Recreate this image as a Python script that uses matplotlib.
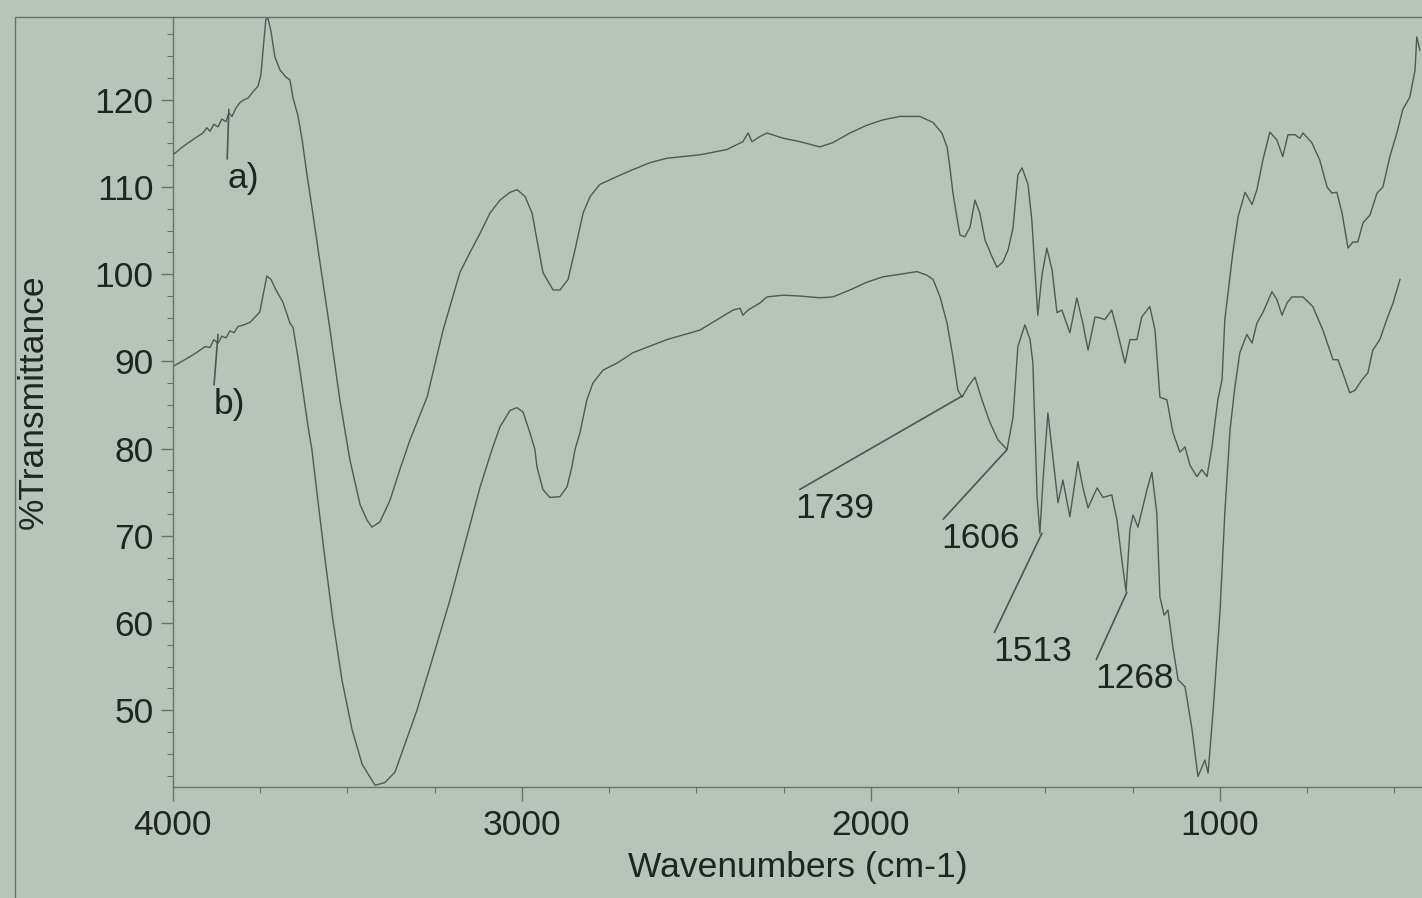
import matplotlib
matplotlib.use('Agg')
import matplotlib.pyplot as plt
from matplotlib.lines import Line2D
from matplotlib.ticker import MultipleLocator

# ─── Data ─────────────────────────────────────────────────────────────────────
WN_A = [3997, 3966, 3937, 3914, 3903, 3894, 3883, 3871, 3860, 3848, 3840, 3831,
        3819, 3808, 3797, 3785, 3771, 3756, 3748, 3742, 3734, 3728, 3719, 3708,
        3693, 3676, 3665, 3656, 3642, 3630, 3616, 3602, 3579, 3550, 3522, 3493,
        3464, 3444, 3430, 3407, 3378, 3350, 3321, 3272, 3226, 3178, 3149, 3120,
        3092, 3063, 3034, 3014, 2991, 2971, 2957, 2940, 2911, 2891, 2868, 2848,
        2825, 2805, 2777, 2728, 2682, 2633, 2585, 2490, 2413, 2367, 2352, 2341,
        2318, 2298, 2252, 2203, 2146, 2109, 2060, 2011, 1966, 1917, 1860, 1822,
        1797, 1782, 1774, 1765, 1754, 1745, 1731, 1716, 1702, 1688, 1673, 1653,
        1639, 1622, 1607, 1593, 1579, 1567, 1550, 1539, 1530, 1522, 1510, 1496,
        1481, 1467, 1453, 1430, 1410, 1393, 1378, 1358, 1344, 1330, 1310, 1295,
        1272, 1258, 1238, 1224, 1201, 1186, 1172, 1152, 1135, 1115, 1100, 1086,
        1066, 1052, 1037, 1023, 1006, 994, 986, 963, 948, 928, 908, 894,
        877, 857, 837, 820, 805, 785, 771, 762, 737, 714, 693, 679,
        665, 650, 633, 619, 605, 590, 570, 550, 533, 513, 493, 476,
        456, 441, 436, 427]
T_A = [113.8, 114.8, 115.6, 116.2, 116.8, 116.4, 117.2, 116.9, 117.8, 117.5, 118.5, 118.1,
       119.1, 119.7, 120.0, 120.2, 120.9, 121.6, 122.9, 125.7, 129.2, 129.4, 127.8, 124.9,
       123.4, 122.6, 122.3, 120.2, 118.2, 115.4, 111.4, 107.7, 101.4, 93.6, 85.6, 78.7,
       73.6, 71.8, 71.0, 71.6, 74.1, 77.6, 81.0, 85.9, 93.6, 100.2, 102.5, 104.7,
       107.0, 108.5, 109.4, 109.7, 108.9, 107.0, 103.9, 100.2, 98.2, 98.2, 99.4, 102.8,
       107.0, 108.9, 110.3, 111.2, 112.0, 112.8, 113.3, 113.7, 114.3, 115.2, 116.2, 115.2,
       115.8, 116.2, 115.6, 115.2, 114.6, 115.1, 116.2, 117.1, 117.7, 118.1, 118.1, 117.4,
       116.2, 114.6, 112.3, 109.3, 106.6, 104.5, 104.3, 105.4, 108.5, 107.0, 103.9, 102.0,
       100.8, 101.4, 102.8, 105.3, 111.4, 112.2, 110.3, 106.2, 100.5, 95.3, 99.9, 103.0,
       100.5, 95.6, 95.9, 93.3, 97.3, 94.4, 91.3, 95.1, 95.0, 94.8, 95.9, 93.6,
       89.8, 92.5, 92.5, 95.1, 96.3, 93.6, 85.9, 85.6, 81.9, 79.6, 80.2, 78.1,
       76.8, 77.6, 76.8, 80.2, 85.6, 87.9, 94.8, 102.5, 106.6, 109.4, 108.0, 109.7,
       113.1, 116.3, 115.4, 113.5, 116.0, 116.0, 115.6, 116.2, 115.1, 113.1, 110.0, 109.3,
       109.4, 107.0, 103.0, 103.7, 103.7, 105.9, 106.8, 109.3, 110.0, 113.5, 116.2, 118.9,
       120.3, 123.4, 127.2, 125.7]

WN_B = [3997, 3966, 3937, 3908, 3894, 3883, 3871, 3860, 3848, 3837, 3825, 3814,
        3797, 3779, 3762, 3751, 3742, 3731, 3719, 3705, 3685, 3665, 3656, 3642,
        3628, 3613, 3602, 3585, 3564, 3542, 3516, 3487, 3458, 3421, 3393, 3364,
        3341, 3301, 3255, 3206, 3158, 3120, 3086, 3063, 3034, 3014, 2997, 2977,
        2963, 2957, 2940, 2920, 2891, 2871, 2857, 2848, 2834, 2814, 2797, 2768,
        2728, 2682, 2585, 2490, 2395, 2375, 2367, 2352, 2318, 2298, 2252, 2203,
        2146, 2109, 2060, 2011, 1966, 1917, 1868, 1840, 1822, 1802, 1782, 1765,
        1751, 1739, 1722, 1702, 1682, 1659, 1636, 1610, 1593, 1579, 1559, 1544,
        1536, 1524, 1516, 1507, 1493, 1479, 1464, 1450, 1430, 1407, 1393, 1378,
        1352, 1335, 1310, 1295, 1281, 1269, 1258, 1249, 1235, 1209, 1195, 1181,
        1172, 1160, 1149, 1135, 1120, 1100, 1080, 1063, 1043, 1034, 1020, 1000,
        986, 971, 957, 943, 923, 908, 894, 877, 851, 837, 822, 808,
        794, 762, 734, 705, 676, 662, 648, 628, 613, 593, 576, 562,
        542, 522, 504, 484]
T_B = [89.5, 90.2, 90.9, 91.7, 91.6, 92.5, 92.1, 92.9, 92.7, 93.5, 93.3, 94.0,
       94.2, 94.5, 95.2, 95.7, 97.6, 99.8, 99.4, 98.2, 96.8, 94.4, 93.9, 90.5,
       86.7, 82.5, 79.9, 74.1, 67.2, 60.4, 53.5, 47.8, 43.8, 41.4, 41.7, 42.9,
       45.5, 50.0, 56.1, 62.7, 69.9, 75.6, 79.9, 82.5, 84.4, 84.7, 84.2, 81.8,
       79.9, 77.9, 75.3, 74.4, 74.5, 75.6, 77.9, 79.9, 81.8, 85.6, 87.5, 89.0,
       89.8, 91.0, 92.5, 93.6, 95.9, 96.1, 95.3, 95.9, 96.7, 97.4, 97.6, 97.5,
       97.3, 97.4, 98.2, 99.1, 99.7, 100.0, 100.3, 99.9, 99.4, 97.4, 94.4, 90.5,
       86.7, 85.9, 87.1, 88.2, 85.6, 83.0, 81.0, 79.9, 83.6, 91.7, 94.2, 92.5,
       89.8, 74.5, 70.3, 76.4, 84.1, 79.1, 73.8, 76.4, 72.2, 78.5, 75.6, 73.2,
       75.5, 74.4, 74.7, 71.8, 67.2, 63.6, 70.7, 72.4, 71.0, 75.3, 77.3, 72.6,
       63.0, 60.9, 61.5, 57.3, 53.5, 52.7, 47.8, 42.4, 44.3, 42.8, 49.7, 61.2,
       72.6, 82.2, 87.1, 91.0, 93.1, 92.1, 94.4, 95.6, 98.0, 97.1, 95.3, 96.7,
       97.4, 97.4, 96.3, 93.6, 90.2, 90.2, 88.7, 86.4, 86.7, 87.9, 88.7, 91.3,
       92.5, 94.8, 96.7, 99.4]

# Labels with leader lines: target point on the trace and text anchor (top-left)
LABELS     = ['a)', 'b)', '1739', '1606', '1513', '1268']
LABEL_XY   = [(3840, 118.9), (3871, 93.1), (1736, 86.1), (1610, 79.9), (1510, 70.3), (1267, 63.5)]
LABEL_TEXT = [(3845, 112.9), (3883, 87.0), (2218, 75.0), (1800, 71.6), (1650, 58.6), (1358, 55.5)]

# ─── Style ────────────────────────────────────────────────────────────────────
BG    = '#b6c4b9'
INK   = '#1f2521'
TRACE = '#4f5a53'
AXCOL = '#68726b'
FS    = 25.5

plt.rcParams.update({
    'font.family': ['Liberation Sans', 'DejaVu Sans'],
    'font.size':   FS,
})

W, H = 1422, 898
fig = plt.figure(figsize=(W / 100, H / 100), dpi=100, facecolor=BG)
ax = fig.add_axes([173 / W, (H - 787) / H, (W - 173) / W, (787 - 17) / H])
ax.set_facecolor(BG)

ax.plot(WN_A, T_A, color=TRACE, lw=1.0, solid_joinstyle='round', zorder=3)
ax.plot(WN_B, T_B, color=TRACE, lw=1.0, solid_joinstyle='round', zorder=3)

for lab, xy, xt in zip(LABELS, LABEL_XY, LABEL_TEXT):
    ax.annotate(lab, xy=xy, xytext=xt, ha='left', va='top',
                fontsize=FS, color=INK,
                arrowprops=dict(arrowstyle='-', color='#4d5650', lw=1.2,
                                shrinkA=0, shrinkB=0, relpos=(0, 1)))

ax.set_xlim(4000, 421)
ax.set_ylim(41.2, 129.5)
ax.xaxis.set_major_locator(MultipleLocator(1000))
ax.xaxis.set_minor_locator(MultipleLocator(250))
ax.yaxis.set_major_locator(MultipleLocator(10))
ax.yaxis.set_minor_locator(MultipleLocator(2.5))
ax.set_yticks(range(50, 121, 10))

ax.tick_params(axis='both', which='major', direction='out', color=AXCOL,
               labelcolor=INK, labelsize=FS, width=1.0)
ax.tick_params(axis='x', which='major', length=10, pad=6)
ax.tick_params(axis='y', which='major', length=9, pad=5)
ax.tick_params(axis='both', which='minor', direction='out', color=AXCOL,
               length=4, width=0.8)

for side in ('top', 'right'):
    ax.spines[side].set_visible(False)
for side in ('left', 'bottom'):
    ax.spines[side].set_color(AXCOL)
    ax.spines[side].set_linewidth(1.0)

ax.set_xlabel('Wavenumbers (cm-1)', fontsize=FS, color=INK)
ax.xaxis.set_label_coords(0.5, -0.083)
ax.set_ylabel('%Transmittance', fontsize=FS, color=INK)
ax.yaxis.set_label_coords(-0.099, 0.5)

# Outer frame of the printed page (top and left edges)
fig.add_artist(Line2D([15 / W, 15 / W, 1.0], [0.0, 1 - 17 / H, 1 - 17 / H],
                      transform=fig.transFigure, color=AXCOL, lw=1.0))

fig.savefig('out.png', dpi=100, facecolor=BG)
